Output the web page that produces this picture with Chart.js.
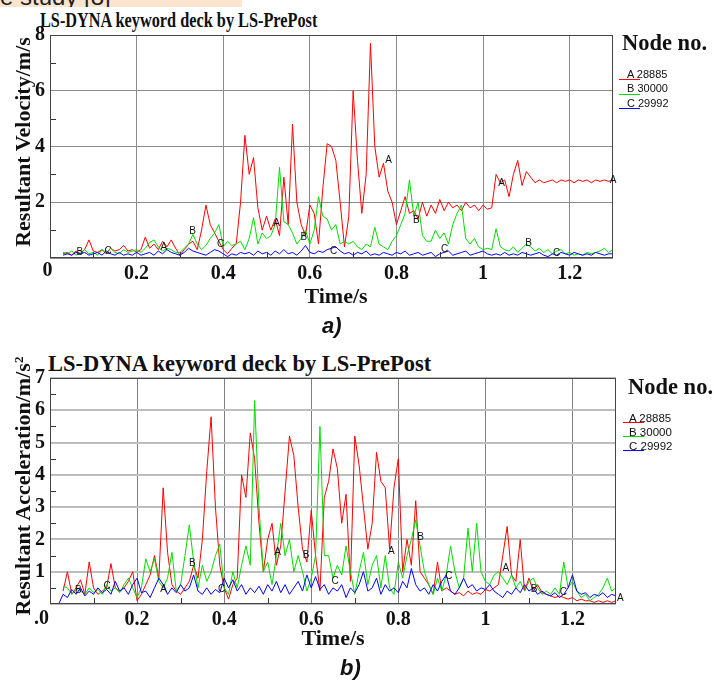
<!DOCTYPE html>
<html lang="en">
<head>
<meta charset="UTF-8">
<script src="https://cdn.jsdelivr.net/npm/chart.js"></script>
<style>
  body { margin: 0; background: #fff; }
  #page { position: relative; width: 714px; height: 681px; overflow: hidden; background: #fff; }
  .txt { position: absolute; white-space: nowrap; line-height: 1; color: #111; }
  .serif { font-family: "Liberation Serif", "Times New Roman", serif; font-weight: bold; }
  .sans { font-family: "Liberation Sans", Arial, sans-serif; }
  .cap { font-family: "Liberation Sans", Arial, sans-serif; font-weight: bold; font-style: italic; font-size: 22px; }
  .vert { transform: translate(-50%, -50%) rotate(-90deg); }
  canvas { position: absolute; left: 0; }
  #banner { position: absolute; left: 0; top: 0; width: 242px; height: 7px; background: #fce5cf; overflow: hidden; }
  #banner span { position: absolute; left: 0; top: -15px; font: 24px/1 "Liberation Sans", sans-serif; color: #222; }
  .key { position: absolute; height: 1px; width: 21px; }
</style>
</head>
<body>
<div id="page">
  <div id="banner"><span>e study [8]</span></div>

  <div class="txt serif" style="left:40px;top:9px;font-size:22px;transform:scaleX(0.74);transform-origin:left top">LS-DYNA keyword deck by LS-PrePost</div>
  <canvas id="velChart" width="714" height="300" style="top:0"></canvas>
  <div class="txt serif vert" style="left:23px;top:142px;font-size:22px">Resultant Velocity/m/s</div>
  <div class="txt serif" style="left:42.5px;top:259px;font-size:20px">0</div>
  <div class="txt serif" style="left:336px;top:285px;font-size:22px;transform:translateX(-50%)">Time/s</div>
  <div class="txt cap" style="left:322px;top:315px">a)</div>
  <div class="txt serif" style="left:622px;top:32px;font-size:22.5px">Node no.</div>

  <div class="txt serif" style="left:48px;top:353px;font-size:22.5px">LS-DYNA keyword deck by LS-PrePost</div>
  <canvas id="accChart" width="714" height="300" style="top:340px"></canvas>
  <div class="txt serif vert" style="left:23px;top:486px;font-size:22px">Resultant Acceleration/m/s<span style="font-size:0.6em;position:relative;top:-0.55em">2</span></div>
  <div class="txt serif" style="left:34px;top:607px;font-size:20px">.0</div>
  <div class="txt serif" style="left:333px;top:627px;font-size:22px;transform:translateX(-50%)">Time/s</div>
  <div class="txt cap" style="left:340px;top:657px">b)</div>
  <div class="txt serif" style="left:628px;top:376px;font-size:22.5px">Node no.</div>
</div>

<script>
  // samples of the exported curves, one every 0.01 s from t = 0
  const dt = 0.01;
  const nodeLetters = ['A', 'B', 'C'];
  const nodeIds = ['28885', '30000', '29992'];
  const nodeColors = ['#ff0000', '#00dd00', '#0000ff'];

  // resultant velocity, m/s
  const velA = [null, null, null, 0.15, 0.2, 0.1, 0.25, 0.15, 0.3, 0.65,
    0.25, 0.2, 0.3, 0.15, 0.35, 0.25, 0.3, 0.45, 0.25, 0.3,
    0.2, 0.3, 0.75, 0.35, 0.5, 0.3, 0.6, 0.4, 0.65, 0.35,
    0.1, 0.3, 0.5, 0.6, 0.3, 1.0, 1.9, 1.2, 0.9, 0.6,
    0.3, 0.15, 0.35, 0.5, 2.0, 4.4, 3.0, 3.6, 1.8, 1.0,
    1.5, 1.0, 1.4, 0.8, 2.9, 1.2, 4.8, 2.0, 1.2, 0.8,
    1.9, 1.6, 0.5, 2.5, 4.1, 4.0, 3.5, 2.0, 0.4, 1.5,
    6.0, 3.5, 1.6, 3.0, 7.7, 4.0, 2.9, 3.4, 2.4, 2.0,
    1.2, 1.7, 2.2, 1.6, 1.7, 1.4, 2.0, 1.5, 1.9, 1.6,
    2.1, 1.7, 2.0, 1.8, 1.9, 1.7, 2.0, 1.8, 1.9, 1.7,
    1.9, 1.75, 1.8, 3.0, 2.7, 2.8, 2.2, 3.0, 3.5, 2.6,
    3.1, 2.9, 2.7, 2.8, 2.7, 2.75, 2.8, 2.7, 2.8, 2.75,
    2.8, 2.7, 2.8, 2.75, 2.8, 2.7, 2.8, 2.75, 2.8, 2.75,
    2.8];
  const velB = [null, null, null, 0.2, 0.15, 0.25, 0.1, 0.2, 0.3, 0.15,
    0.2, 0.1, 0.3, 0.2, 0.35, 0.2, 0.15, 0.3, 0.2, 0.25,
    0.3, 0.2, 0.35, 0.55, 0.65, 0.4, 0.25, 0.35, 0.3, 0.2,
    0.2, 0.35, 0.5, 0.85, 0.5, 0.3, 0.45, 0.7, 0.9, 1.2,
    0.4, 0.6, 0.45, 0.5, 0.6, 0.3, 0.7, 1.45, 0.5, 0.9,
    0.7, 0.8, 1.2, 3.25, 1.3, 1.2, 0.9, 0.5, 0.7, 1.0,
    0.5, 1.0, 2.2, 1.5, 1.4, 1.0, 1.2, 0.5, 0.6, 0.5,
    0.6, 0.4, 0.3, 0.5, 0.4, 1.1, 0.5, 0.4, 0.3, 0.6,
    0.8, 1.2, 1.6, 2.8, 1.5, 2.0, 0.8, 0.6, 0.6, 1.0,
    0.7, 0.9, 0.5, 1.2, 1.6, 1.9, 0.7, 0.5, 0.7, 0.4,
    0.3, 0.35, 0.3, 1.05, 0.4, 0.3, 0.25, 0.4, 0.2, 0.35,
    0.5, 0.4, 0.25, 0.35, 0.2, 0.3, 0.15, 0.25, 0.3, 0.15,
    0.2, 0.1, 0.15, 0.1, 0.2, 0.15, 0.2, 0.25, 0.35, 0.2,
    0.3];
  const velC = [null, null, null, 0.1, 0.15, 0.1, 0.2, 0.15, 0.2, 0.1,
    0.15, 0.2, 0.1, 0.25, 0.15, 0.1, 0.2, 0.1, 0.15, 0.1,
    0.2, 0.1, 0.15, 0.2, 0.1, 0.25, 0.15, 0.3, 0.2, 0.15,
    0.1, 0.2, 0.35, 0.25, 0.2, 0.15, 0.1, 0.2, 0.3, 0.25,
    0.15, 0.05, 0.15, 0.1, 0.2, 0.15, 0.2, 0.1, 0.25, 0.15,
    0.2, 0.1, 0.25, 0.15, 0.3, 0.15, 0.2, 0.1, 0.25, 0.45,
    0.2, 0.15, 0.25, 0.2, 0.3, 0.35, 0.4, 0.25, 0.15, 0.2,
    0.1, 0.2, 0.15, 0.25, 0.1, 0.15, 0.1, 0.2, 0.15, 0.1,
    0.2, 0.15, 0.25, 0.1, 0.15, 0.2, 0.1, 0.15, 0.2, 0.05,
    0.15, 0.2, 0.25, 0.1, 0.15, 0.2, 0.25, 0.1, 0.15, 0.2,
    0.25, 0.15, 0.1, 0.15, 0.1, 0.2, 0.1, 0.15, 0.1, 0.2,
    0.15, 0.1, 0.15, 0.2, 0.1, 0.05, 0.15, 0.1, 0.2, 0.15,
    0.1, 0.2, 0.15, 0.1, 0.15, 0.1, 0.2, 0.15, 0.1, 0.15,
    0.15];

  // resultant acceleration, m/s^2
  const accA = [null, null, null, 0.4, 1.0, 0.3, 0.5, 0.75, 0.3, 1.3,
    0.5, 0.3, 0.4, 0.5, 1.25, 0.5, 0.4, 0.5, 0.7, 1.0,
    0.1, 0.3, 0.6, 0.9, 1.5, 0.8, 3.6, 1.6, 0.6, 0.4,
    0.3, 0.5, 0.7, 1.2, 0.8, 2.0, 4.1, 5.8, 3.0, 1.2,
    0.5, 0.15, 0.6, 0.8, 4.0, 3.3, 5.3, 4.5, 2.5, 1.0,
    2.0, 2.5, 1.2, 1.8, 3.5, 5.2, 4.6, 3.0, 1.7, 1.3,
    2.9, 1.5, 0.4, 3.3, 3.8, 4.8, 4.2, 2.5, 3.4, 0.7,
    5.2, 4.3, 3.0, 1.7, 2.5, 4.7, 3.8, 3.6, 1.7, 3.6,
    4.5, 1.0, 2.0, 1.2, 3.2, 1.0, 0.8, 0.6, 0.3, 1.3,
    0.4, 0.5, 0.4, 0.3, 0.35, 0.25, 0.4, 0.3, 0.35, 0.3,
    0.45, 0.4, 0.5, 0.6, 1.5, 2.4, 0.9, 0.7, 2.0, 0.4,
    0.8, 0.4, 0.6, 0.35, 0.3, 0.25, 0.2, 0.25, 0.2, 0.15,
    0.2, 0.1, 0.15, 0.1, 0.1, 0.05, 0.1, 0.05, 0.1, 0.05,
    0.1];
  const accB = [null, null, null, 0.55, 0.5, 0.3, 0.45, 0.4, 0.3, 0.5,
    0.35, 0.45, 0.3, 0.6, 0.4, 0.5, 0.35, 0.6, 0.8, 0.5,
    0.2, 0.5, 1.4, 1.0, 1.4, 0.7, 0.5, 0.8, 1.6, 0.4,
    0.6, 1.5, 2.45, 1.3, 0.5, 1.2, 0.7, 1.0, 1.5, 1.85,
    0.5, 0.3, 1.0, 0.5, 1.2, 1.8, 1.2, 6.3, 3.0, 1.0,
    1.3, 0.6, 1.5, 2.5, 1.5, 2.0, 1.0, 1.5, 1.0, 0.4,
    0.8, 1.5, 5.5, 1.5, 1.5, 0.8, 1.2, 0.9, 1.8, 1.0,
    0.3, 1.0, 1.6, 0.6, 1.2, 1.5, 0.5, 1.5, 0.5, 0.3,
    1.3, 0.8, 1.5, 2.0, 2.6, 1.8, 1.0, 0.6, 0.3, 0.8,
    0.4, 0.9, 1.8, 1.0, 0.5, 0.8, 2.35, 1.0, 2.5, 1.0,
    0.7, 0.6, 0.9, 1.0, 0.8, 0.6, 0.9, 0.5, 0.7, 0.4,
    0.7, 0.8, 0.5, 0.3, 0.4, 0.3, 0.5, 0.3, 1.3, 0.5,
    0.7, 0.4, 0.2, 0.3, 0.1, 0.2, 0.3, 0.5, 0.8, 0.4,
    0.5];
  const accC = [0, 0, 0, 0.3, 0.2, 0.45, 0.3, 0.5, 0.25, 0.4,
    0.3, 0.5, 0.35, 0.45, 0.3, 0.7, 0.4, 0.5, 0.3, 0.6,
    0.8, 0.35, 0.4, 0.2, 0.5, 0.8, 0.6, 0.3, 0.5, 0.35,
    0.6, 0.4, 0.5, 0.9, 0.4, 0.3, 0.5, 0.3, 0.45, 0.35,
    0.8, 0.5, 0.75, 0.4, 0.6, 0.3, 0.5, 0.35, 0.55, 0.3,
    0.6, 0.4, 0.7, 0.35, 0.6, 0.3, 0.5, 0.7, 0.4, 0.9,
    0.5, 0.85, 0.45, 0.6, 0.3, 0.5, 0.4, 0.6, 0.2, 0.5,
    0.35, 0.6, 1.0, 0.4, 0.5, 0.8, 0.3, 0.6, 0.4, 0.5,
    0.35, 0.7, 0.5, 1.1, 0.6, 0.4, 0.5, 0.3, 0.6, 0.4,
    0.7, 0.9, 0.4, 0.3, 0.5, 0.8, 0.5, 0.6, 0.4, 0.5,
    0.45, 0.6, 0.4, 0.3, 0.2, 0.4, 0.3, 0.5, 0.35, 0.6,
    0.4, 0.5, 0.3, 0.4, 0.3, 0.25, 0.35, 0.2, 0.3, 0.5,
    0.9, 0.4, 0.3, 0.35, 0.2, 0.3, 0.25, 0.35, 0.2, 0.3,
    0.25];

  // curve letters that LS-PrePost prints along each line: [letter, t, value]
  const velMarks = [['B', 0.069, 0.22], ['C', 0.134, 0.26], ['A', 0.263, 0.4], ['B', 0.329, 0.95],
    ['C', 0.394, 0.5], ['A', 0.523, 1.25], ['B', 0.586, 0.75], ['C', 0.655, 0.26], ['A', 0.782, 3.5],
    ['B', 0.846, 1.34], ['C', 0.911, 0.32], ['A', 1.043, 2.69], ['B', 1.105, 0.53], ['C', 1.17, 0.17],
    ['A', 1.3, 2.78]];
  const accMarks = [['B', 0.065, 0.43], ['C', 0.131, 0.56], ['A', 0.261, 0.45], ['B', 0.327, 1.26],
    ['C', 0.394, 0.45], ['A', 0.523, 1.59], ['B', 0.588, 1.5], ['C', 0.655, 0.72], ['A', 0.784, 1.62],
    ['B', 0.851, 2.06], ['C', 0.916, 0.85], ['A', 1.047, 1.12], ['B', 1.112, 0.45], ['C', 1.179, 0.35],
    ['A', 1.31, 0.18]];

  const serifFont = '"Liberation Serif", "Times New Roman", serif';

  // frame, minor ticks and curve letters
  const extras = {
    id: 'extras',
    afterDatasetsDraw(chart, args, opts) {
      const { ctx, chartArea: a, scales: { x, y } } = chart;
      ctx.save();
      ctx.strokeStyle = '#333';
      ctx.lineWidth = 1;
      ctx.beginPath();
      for (let k = 1; k * opts.minorY < y.max; k += 2) {
        const py = Math.round(y.getPixelForValue(k * opts.minorY)) + 0.5;
        ctx.moveTo(a.left, py);
        ctx.lineTo(a.left + 6, py);
      }
      for (let k = 1; k * 0.1 < x.max - 0.05; k += 2) {
        const px = Math.round(x.getPixelForValue(k * 0.1)) + 0.5;
        ctx.moveTo(px, a.bottom);
        ctx.lineTo(px, a.bottom - 6);
      }
      ctx.stroke();
      ctx.strokeStyle = '#444';
      ctx.strokeRect(a.left + 0.5, a.top + 0.5, a.right - a.left - 1, a.bottom - a.top - 1);

      ctx.fillStyle = '#111';
      ctx.font = '10px "Liberation Sans", Arial, sans-serif';
      ctx.textAlign = 'center';
      ctx.textBaseline = 'middle';
      opts.marks.forEach(([t, xv, yv]) => {
        ctx.fillText(t, x.getPixelForValue(xv), y.getPixelForValue(yv));
      });
      ctx.restore();
    }
  };

  function line(values, i) {
    return {
      data: values.map((v, k) => ({ x: k * dt, y: v })),
      borderColor: nodeColors[i],
      borderWidth: 1,
      pointRadius: 0,
      tension: 0,
      order: 3 - i
    };
  }

  function makeChart(id, series, cfg) {
    return new Chart(document.getElementById(id), {
      type: 'line',
      data: { datasets: series.map(line) },
      options: {
        responsive: false,
        animation: false,
        devicePixelRatio: 1,
        layout: { padding: cfg.padding },
        plugins: {
          legend: { display: false },
          tooltip: { enabled: false },
          extras: { marks: cfg.marks, minorY: cfg.yStep / 2 }
        },
        scales: {
          x: {
            type: 'linear',
            min: 0,
            max: 1.3,
            afterFit: (s) => { s.height = cfg.xHeight; },
            border: { display: false },
            grid: { color: cfg.xGrid, lineWidth: 1, drawTicks: false },
            ticks: {
              stepSize: 0.2,
              includeBounds: false,
              maxRotation: 0,
              padding: 4,
              color: '#111',
              font: { family: serifFont, weight: 'bold', size: 20 },
              callback: (v) => (v === 0 ? '' : String(Math.round(v * 10) / 10))
            }
          },
          y: {
            min: 0,
            max: cfg.yMax,
            afterFit: (s) => { s.width = 50; },
            border: { display: false },
            grid: { color: cfg.yGrid, lineWidth: cfg.yGridWidth, drawTicks: false },
            ticks: {
              stepSize: cfg.yStep,
              padding: 5,
              color: '#111',
              font: { family: serifFont, weight: 'bold', size: 20 },
              callback: (v) => (v === 0 ? '' : v)
            }
          }
        }
      },
      plugins: [extras]
    });
  }

  makeChart('velChart', [velA, velB, velC], {
    padding: { top: 35, right: 101, left: 0, bottom: 0 },
    xHeight: 42, yMax: 8, yStep: 2, marks: velMarks,
    xGrid: '#8c8c8c', yGrid: '#8c8c8c', yGridWidth: 1
  });
  makeChart('accChart', [accA, accB, accC], {
    padding: { top: 38, right: 98, left: 0, bottom: 0 },
    xHeight: 36, yMax: 7, yStep: 1, marks: accMarks,
    xGrid: '#808080', yGrid: '#bdbdbd', yGridWidth: 2
  });

  // "Node no." key blocks
  const page = document.getElementById('page');
  function addKey(cfg) {
    nodeIds.forEach((id, i) => {
      const t = document.createElement('div');
      t.className = 'txt sans';
      t.style.left = cfg.textLeft + 'px';
      t.style.top = (cfg.top + i * cfg.step) + 'px';
      t.style.fontSize = cfg.size + 'px';
      t.textContent = nodeLetters[i] + ' ' + id;
      page.appendChild(t);
      const k = document.createElement('div');
      k.className = 'key';
      k.style.left = cfg.lineLeft + 'px';
      k.style.top = (cfg.lineTop + i * cfg.step) + 'px';
      k.style.background = nodeColors[i];
      page.appendChild(k);
    });
  }
  addKey({ textLeft: 627, top: 68.5, step: 14.5, size: 11, lineLeft: 619, lineTop: 79 });
  addKey({ textLeft: 629, top: 412.5, step: 14.4, size: 11.5, lineLeft: 623, lineTop: 421.5 });
</script>
</body>
</html>
